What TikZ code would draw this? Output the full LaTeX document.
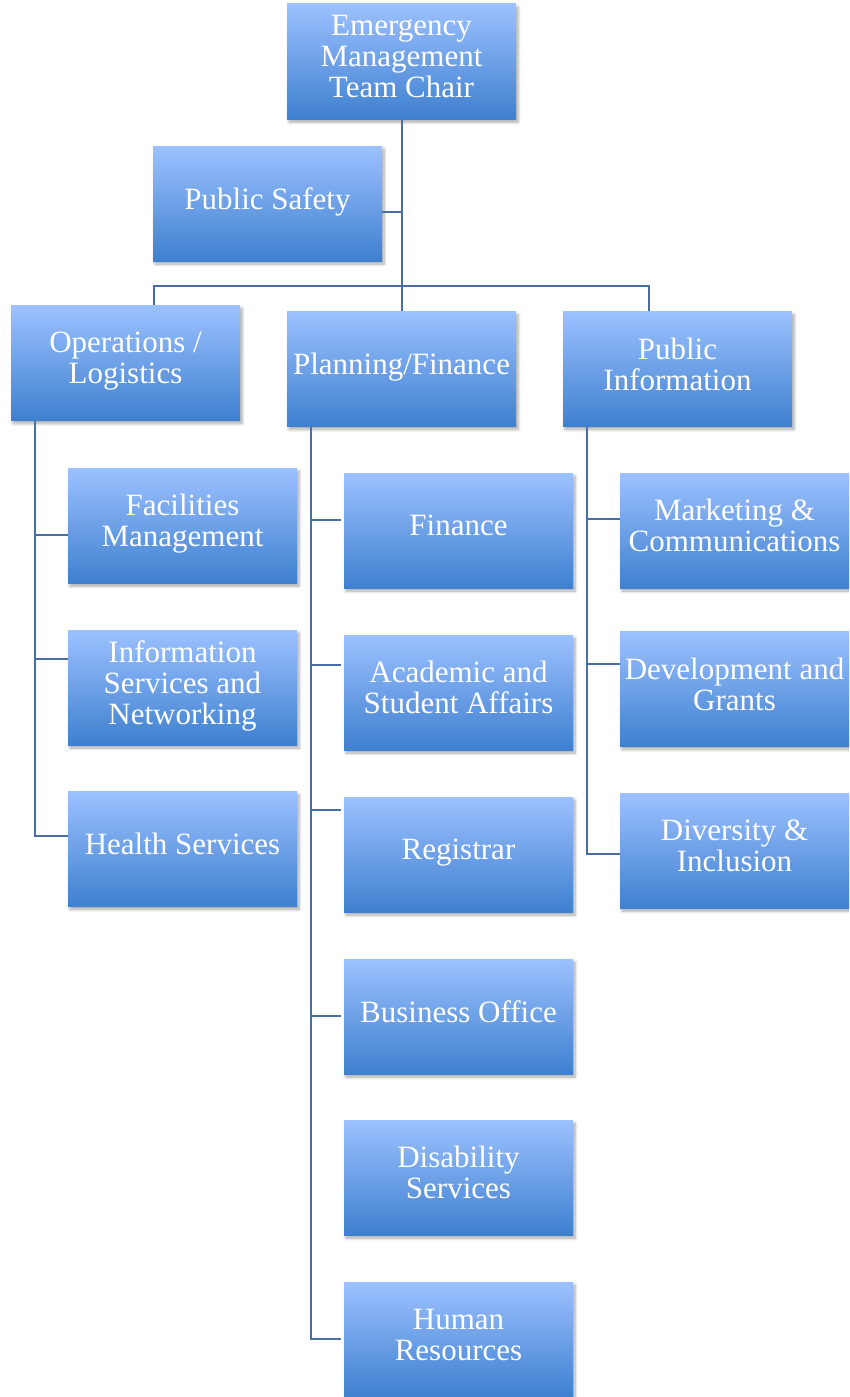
\documentclass[tikz,border=0pt]{standalone}
\usepackage{fontspec}
\setmainfont{Liberation Serif}
\usetikzlibrary{shadows.blur}
\definecolor{boxtop}{RGB}{156,193,255}
\definecolor{boxbot}{RGB}{62,128,207}
\definecolor{linec}{RGB}{72,110,163}
\tikzset{
  orgbox/.style={rectangle, minimum width=229pt, minimum height=115pt, inner sep=0pt,
    top color=boxtop, bottom color=boxbot, text=white, align=center,
    font=\fontsize{31}{31}\selectfont, text depth=10pt,
    blur shadow={shadow xshift=2pt, shadow yshift=-3pt, shadow blur steps=6, shadow opacity=35, shadow blur radius=3pt}},
  conn/.style={draw=linec, line width=2pt}
}
\begin{document}
\begin{tikzpicture}[x=1pt,y=-1pt]
\useasboundingbox (0,0) rectangle (849,1397);
\clip (0,0) rectangle (849,1397);
% top
\node[orgbox] (chair) at (401.5,61.5) {Emergency\\Management\\Team Chair};
\node[orgbox] (ps) at (267.5,203.5) {Public Safety};
\node[orgbox] (ops) at (125.5,363) {Operations /\\Logistics};
\node[orgbox] (plan) at (401.5,369) {Planning/Finance};
\node[orgbox] (pi) at (677.5,369) {Public\\Information};
% left column
\node[orgbox] (fac) at (182.5,525.5) {Facilities\\Management};
\node[orgbox] (info) at (182.5,687.5) {Information\\Services and\\Networking};
\node[orgbox] (health) at (182.5,849) {Health Services};
% middle column
\node[orgbox] (fin) at (458.5,530.5) {Finance};
\node[orgbox] (acad) at (458.5,692.5) {Academic and\\Student Affairs};
\node[orgbox] (reg) at (458.5,854.5) {Registrar};
\node[orgbox] (busoff) at (458.5,1016.5) {Business Office};
\node[orgbox] (dis) at (458.5,1177.5) {Disability\\Services};
\node[orgbox] (hr) at (458.5,1339.5) {Human\\Resources};
% right column
\node[orgbox] (mkt) at (734.5,530.5) {Marketing \&\\Communications};
\node[orgbox] (dev) at (734.5,689) {Development and\\Grants};
\node[orgbox] (div) at (734.5,850.5) {Diversity \&\\Inclusion};
% junction coordinates
\coordinate (psj) at (401,212);
\coordinate (bl) at (154,286);
\coordinate (br) at (649,286);
\coordinate (opsx) at (35,0);
\coordinate (planx) at (311,0);
\coordinate (pix) at (587,0);
% top connectors
\draw[conn] (chair.south) -- (plan.north);
\draw[conn] (ps.east |- psj) -- (psj);
\draw[conn] (ops.north -| bl) -- (bl) -- (br) -- (pi.north -| br);
% operations
\draw[conn] (ops.south -| opsx) -- (opsx |- 0,836) -- (health.west |- 0,836);
\draw[conn] (opsx |- 0,535) -- (fac.west |- 0,535);
\draw[conn] (opsx |- 0,659) -- (info.west |- 0,659);
% planning
\draw[conn] (plan.south -| planx) -- (planx |- 0,1339) -- ([xshift=-3pt]hr.west |- 0,1339);
\draw[conn] (planx |- 0,520) -- ([xshift=-3pt]fin.west |- 0,520);
\draw[conn] (planx |- 0,665) -- ([xshift=-3pt]acad.west |- 0,665);
\draw[conn] (planx |- 0,810) -- ([xshift=-3pt]reg.west |- 0,810);
\draw[conn] (planx |- 0,1016) -- ([xshift=-3pt]busoff.west |- 0,1016);
% public information
\draw[conn] (pi.south -| pix) -- (pix |- 0,854) -- (div.west |- 0,854);
\draw[conn] (pix |- 0,519) -- (mkt.west |- 0,519);
\draw[conn] (pix |- 0,664) -- (dev.west |- 0,664);
\end{tikzpicture}
\end{document}
